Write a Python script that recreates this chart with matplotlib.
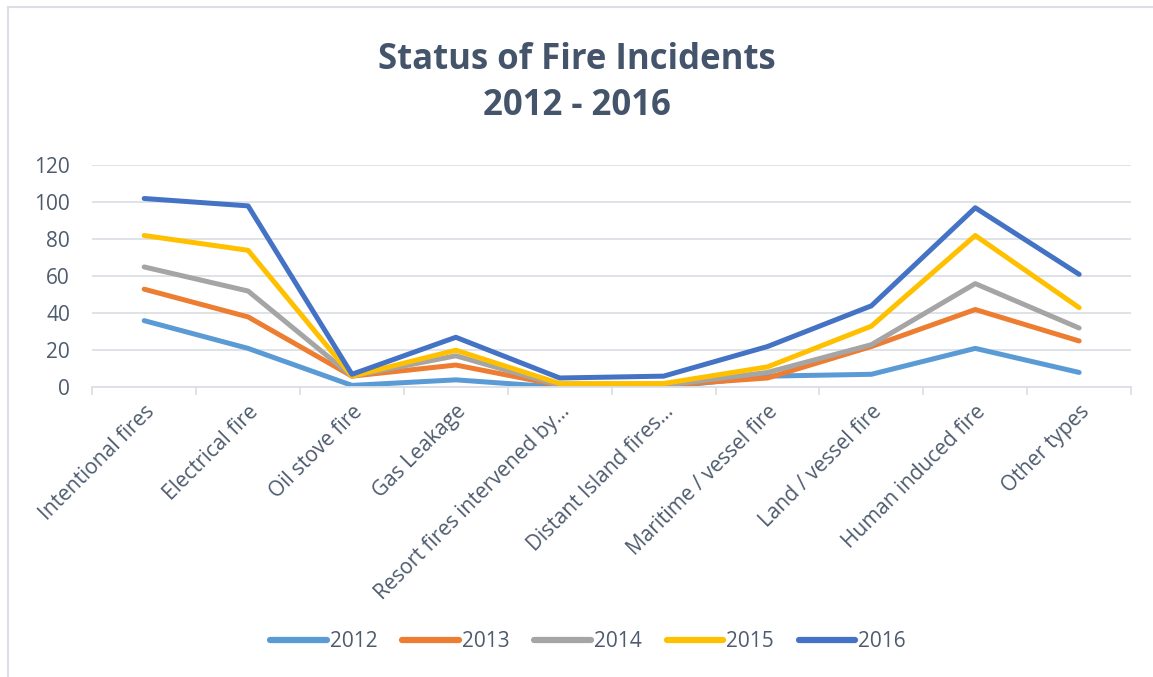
import matplotlib.pyplot as plt
import numpy as np

plt.rcParams['font.family'] = ['Open Sans', 'DejaVu Sans']

# Categories and yearly counts
categories = ['Intentional fires', 'Electrical fire', 'Oil stove fire', 'Gas Leakage',
              'Resort fires intervened by\u2026', 'Distant Island fires\u2026',
              'Maritime / vessel fire', 'Land / vessel fire', 'Human induced fire',
              'Other types']
years = ['2012', '2013', '2014', '2015', '2016']
v2012 = [36, 21, 1, 4, 0, 0, 6, 7, 21, 8]
v2013 = [53, 38, 6, 12, 1, 1, 5, 22, 42, 25]
v2014 = [65, 52, 6, 17, 1, 1, 8, 23, 56, 32]
v2015 = [82, 74, 6, 20, 2, 2, 11, 33, 82, 43]
v2016 = [102, 98, 7, 27, 5, 6, 22, 44, 97, 61]
series = [v2012, v2013, v2014, v2015, v2016]
colors = ['#5B9BD5', '#ED7D31', '#A5A5A5', '#FFC000', '#4472C4']

text_col = '#4E5B6E'
grid_col = '#DCE0E6'

fig = plt.figure(figsize=(11.53, 6.77), dpi=100)
ax = fig.add_axes([0.080, 0.428, 0.901, 0.328])

x = np.arange(len(categories)) + 0.5
for vals, yr, c in zip(series, years, colors):
    ax.plot(x, vals, color=c, lw=3.6, label=yr,
            solid_capstyle='round', solid_joinstyle='round')

ax.set_xlim(0, len(categories))
ax.set_ylim(0, 120)
ax.set_yticks(range(0, 121, 20))
ax.grid(axis='y', color=grid_col, lw=1.3)
ax.set_axisbelow(True)

ax.set_xticks(x)
ax.set_xticklabels(categories, rotation=45, ha='right', rotation_mode='anchor',
                   fontsize=15, color=text_col)
ax.tick_params(axis='x', length=0, pad=10)
ax.set_xticks(np.arange(0, len(categories) + 1), minor=True)
ax.tick_params(axis='x', which='minor', length=6, color=grid_col, width=1.3)
ax.tick_params(axis='y', length=0, labelsize=15, labelcolor=text_col, pad=16)

for s in ['top', 'right', 'left']:
    ax.spines[s].set_visible(False)
ax.spines['bottom'].set_color(grid_col)
ax.spines['bottom'].set_linewidth(1.3)

fig.text(0.5, 0.912, 'Status of Fire Incidents', ha='center', va='center',
         fontsize=25, fontweight='bold', color='#44546A')
fig.text(0.5, 0.843, '2012 - 2016', ha='center', va='center',
         fontsize=25, fontweight='bold', color='#44546A')

leg = fig.legend(loc='center', bbox_to_anchor=(0.51, 0.052), ncol=5, frameon=False,
                 fontsize=15, handlelength=2.7, handletextpad=0.15, columnspacing=1.2)
for t in leg.get_texts():
    t.set_color(text_col)
for h in leg.legend_handles:
    h.set_linewidth(4.5)

# chart border (only left and top edges are visible in the crop)
fig.add_artist(plt.Line2D([8 / 1153, 1], [1 - 7 / 677, 1 - 7 / 677],
                          transform=fig.transFigure, color=grid_col, lw=1.5))
fig.add_artist(plt.Line2D([8 / 1153, 8 / 1153], [0, 1 - 7 / 677],
                          transform=fig.transFigure, color=grid_col, lw=1.5))

fig.savefig('out.png', dpi=100, facecolor='white')
